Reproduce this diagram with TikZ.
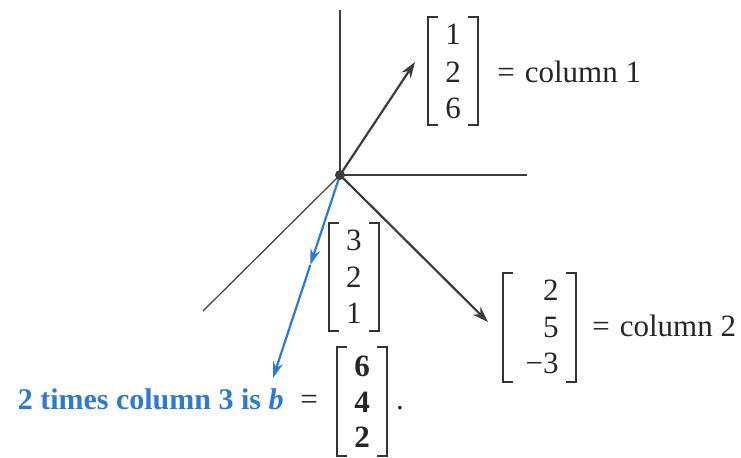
\documentclass[tikz,border=0pt]{standalone}
\usepackage{fontspec}
\setmainfont{Liberation Serif}
\usetikzlibrary{arrows.meta,calc}
\definecolor{axisgray}{HTML}{3C3C3C}
\definecolor{blu}{HTML}{2B7BD6}
\begin{document}
\begin{tikzpicture}[x=0.5pt,y=-0.5pt,
  ent/.style={font=\fontsize{15.5}{18}\selectfont, inner sep=0pt, text=black!85},
  bent/.style={ent, font=\fontsize{15.5}{18}\selectfont\bfseries},
  axisline/.style={draw=axisgray, line width=0.6pt},
  vecarrow/.style={draw=axisgray, line width=1.1pt, -{Stealth[length=8pt,width=5.5pt]}},
  bluearrow/.style={draw=blu, line width=1.1pt, -{Stealth[length=8pt,width=5pt]}},
  brack/.style={draw=black!80, line width=0.9pt}]
\useasboundingbox (0,0) rectangle (741,457);
% axes
\coordinate (O) at (340,175);
\coordinate (ztop) at (340,10);
\coordinate (xend) at (527,175);
\coordinate (yend) at (203,311);
\draw[axisline] (O) -- (ztop);
\draw[axisline] (O) -- (xend);
\draw[axisline] (O) -- (yend);
% vectors
\coordinate (c1tip) at (415,62);
\coordinate (c2tip) at (488,322);
\coordinate (btip) at (273,378);
\coordinate (bmid) at ($(O)!0.443!(btip)$);
\draw[vecarrow] (O) -- (c1tip);
\draw[vecarrow] (O) -- (c2tip);
\draw[bluearrow] (O) -- (bmid);
\draw[bluearrow] (bmid) -- (btip);
\fill[axisgray] (O) circle (5);
% column 1 matrix
\draw[brack] (438,17) -| (428,125) -- (438,125);
\draw[brack] (468,17) -| (478,125) -- (468,125);
\node[ent] (a11) at (453,34) {1};
\node[ent] (a21) at (453,72) {2};
\node[ent] (a31) at (453,108) {6};
\node[ent, anchor=west] (lab1) at (497,72) {=\hspace{5pt}column 1};
% column 3 matrix
\draw[brack] (339,223) -| (329,331) -- (339,331);
\draw[brack] (369,223) -| (379,331) -- (369,331);
\node[ent] (a13) at (354,240) {3};
\node[ent] (a23) at (354,277) {2};
\node[ent] (a33) at (354,313) {1};
% column 2 matrix
\draw[brack] (513,273) -| (503,382) -- (513,382);
\draw[brack] (566,273) -| (576,382) -- (566,382);
\node[ent, anchor=east] (a12) at (559,290) {2};
\node[ent, anchor=east] (a22) at (559,327) {5};
\node[ent, anchor=east] (a32) at (559,363) {−3};
\node[ent, anchor=west] (lab2) at (592,326) {=\hspace{5pt}column 2};
% b matrix
\draw[brack] (347,347) -| (337,456) -- (347,456);
\draw[brack] (377,347) -| (387,456) -- (377,456);
\node[bent] (b1) at (362,366) {6};
\node[bent] (b2) at (362,402) {4};
\node[bent] (b3) at (362,437) {2};
\node[ent] (beq) at (309,402) {=};
\node[ent] (dot) at (400,408) {.};
\node[ent, anchor=east, text=blu, font=\fontsize{15}{18}\selectfont\bfseries] (blab) at (284,399) {2 times column 3 is \textit{b}};
\end{tikzpicture}
\end{document}
